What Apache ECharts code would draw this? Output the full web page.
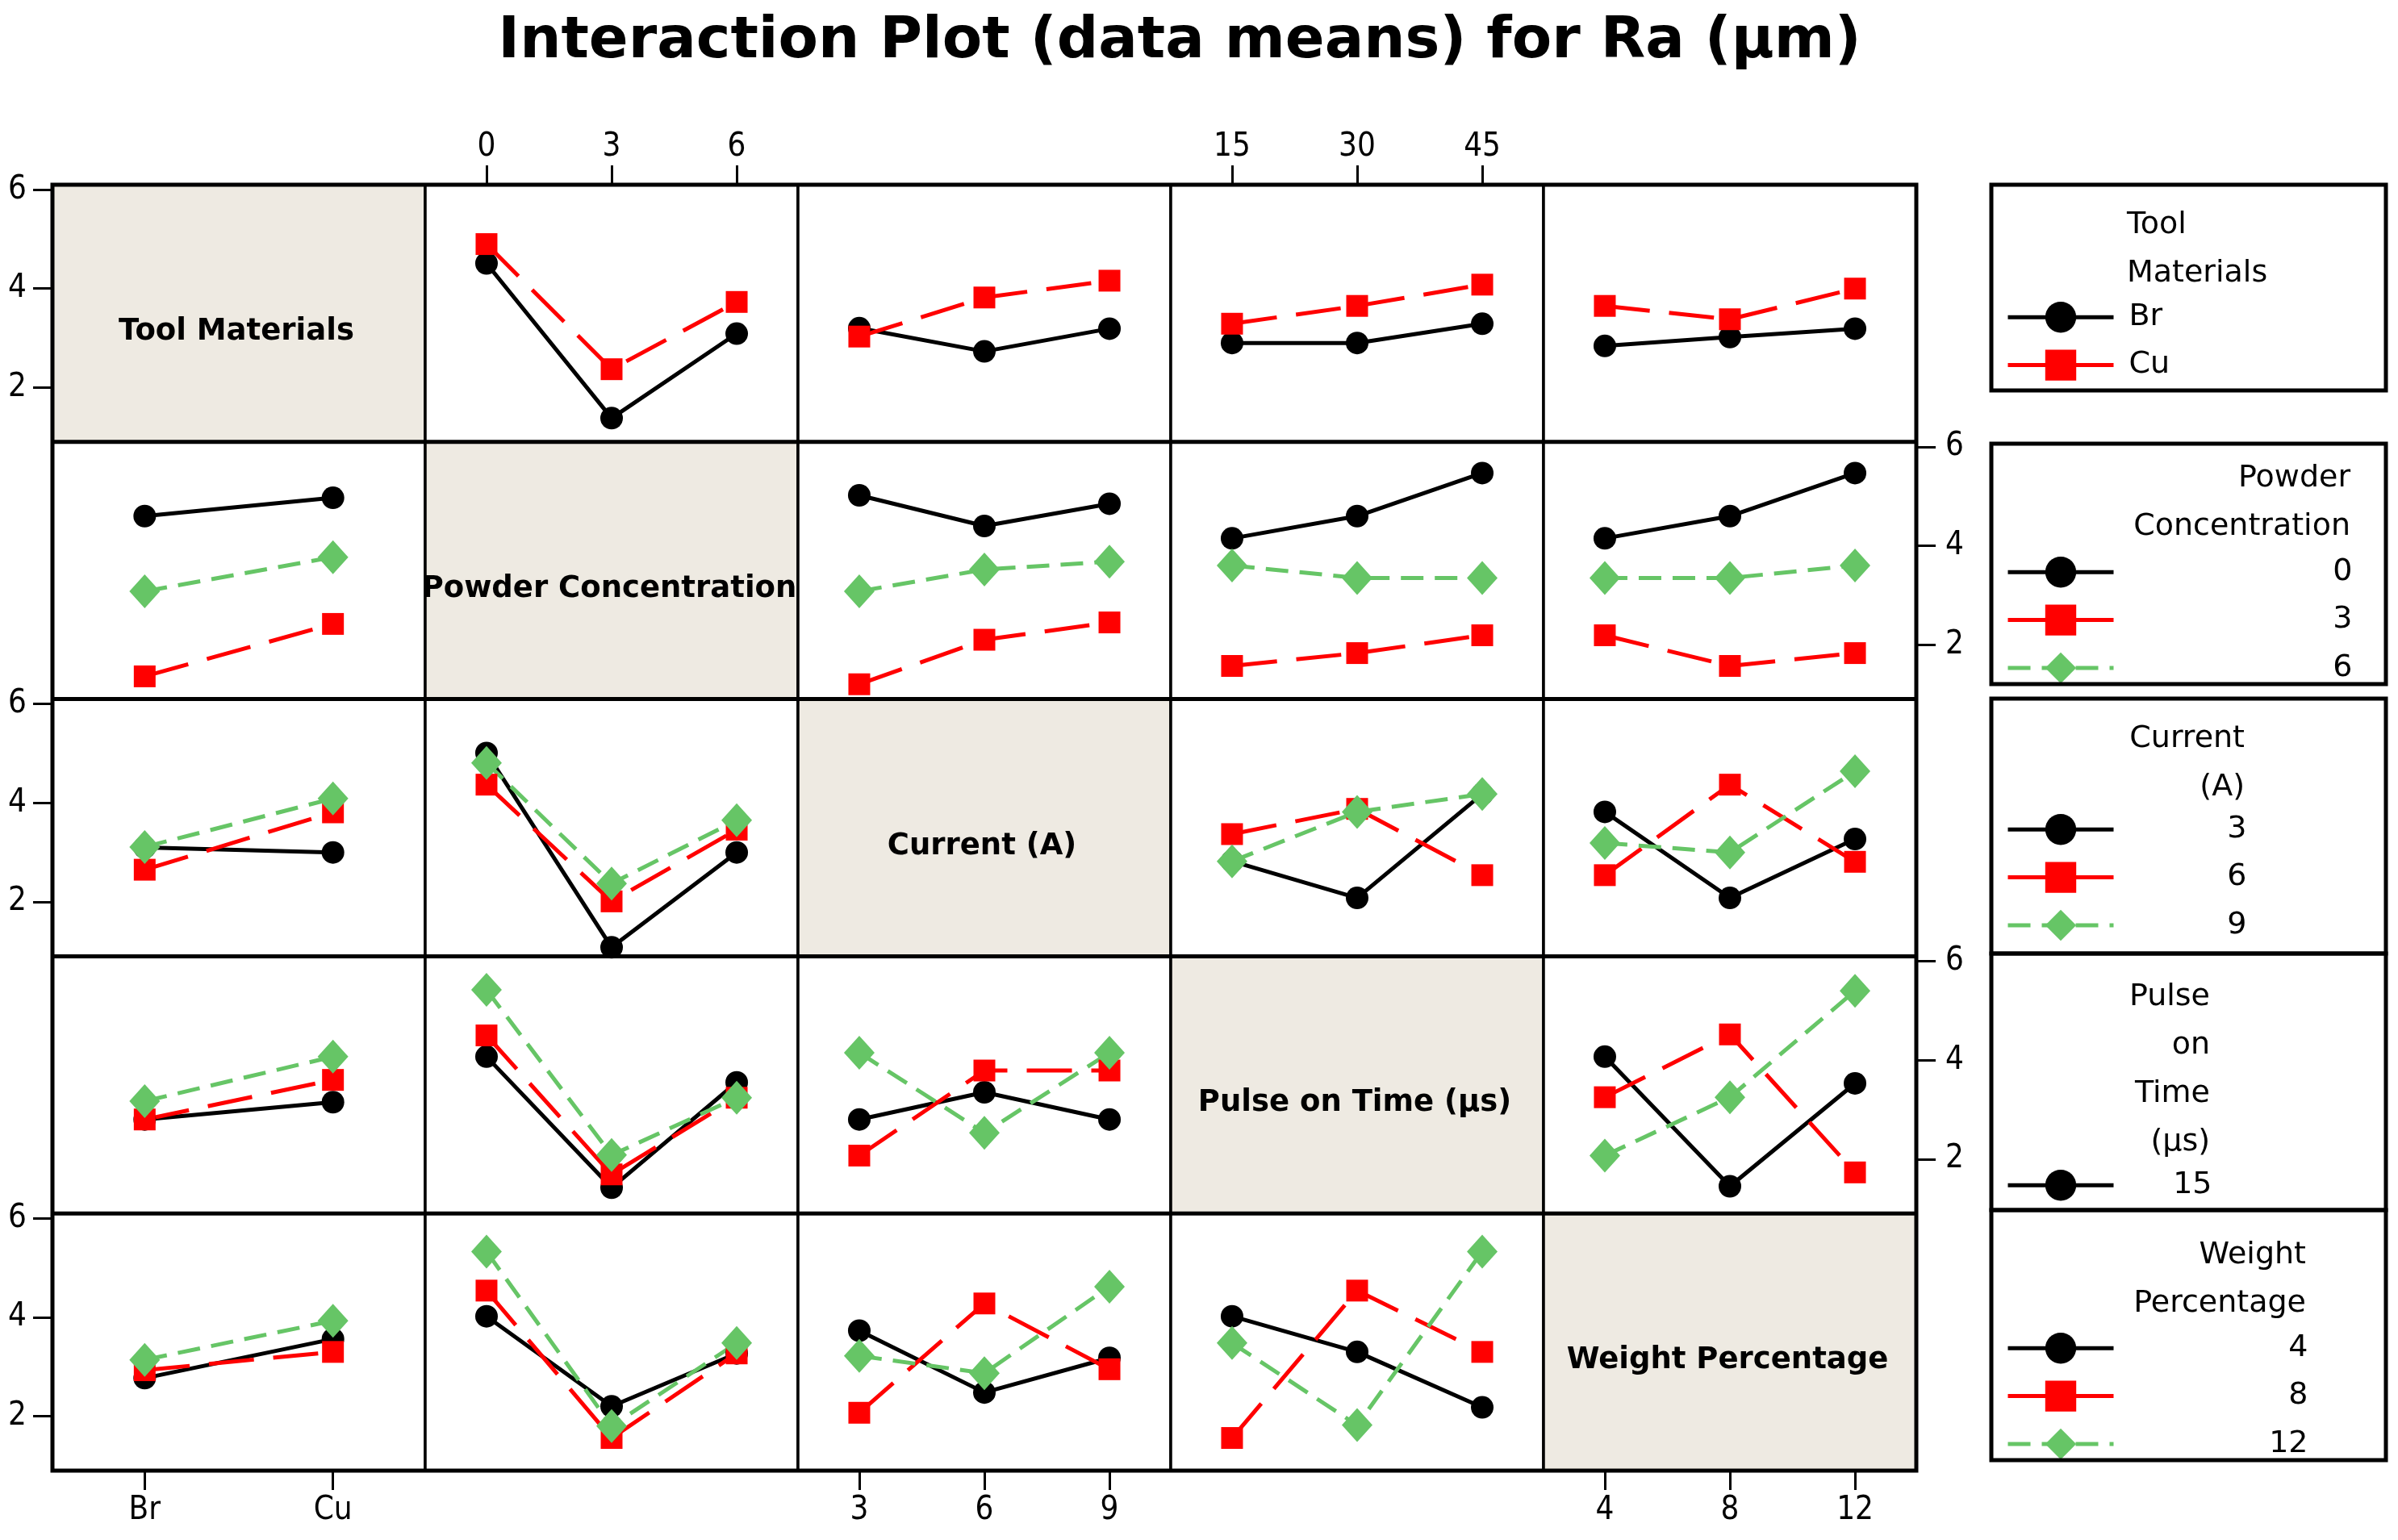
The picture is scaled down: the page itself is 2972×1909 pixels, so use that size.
<!DOCTYPE html>
<html><head><meta charset="utf-8">
<script src="https://cdn.jsdelivr.net/npm/echarts@6/dist/echarts.min.js"></script>
<style>html,body{margin:0;padding:0;background:#fff}#c{width:2972px;height:1909px}</style>
</head><body><div id="c"></div>
<script>
// ---------- factors / tick labels ----------
const factorNames = ['Tool Materials', 'Powder Concentration', 'Current (A)', 'Pulse on Time (\u03bcs)', 'Weight Percentage'];
const factorKeys = ['tool', 'powder', 'current', 'pulse', 'weight'];
const toolLevels = ['Br', 'Cu'];
const powderLevels = ['0', '3', '6'];
const currentLevels = ['3', '6', '9'];
const pulseLevels = ['15', '30', '45'];
const weightLevels = ['4', '8', '12'];
const levels = [toolLevels, powderLevels, currentLevels, pulseLevels, weightLevels];
const yTickValues = [2, 4, 6];
const legendTitles = ['Tool\nMaterials', 'Powder\nConcentration', 'Current\n(A)', 'Pulse\non\nTime\n(\u03bcs)', 'Weight\nPercentage'];
const legendShownLevels = [['Br', 'Cu'], ['0', '3', '6'], ['3', '6', '9'], ['15'], ['4', '8', '12']];
const chartTitle = 'Interaction Plot (data means) for Ra (\u03bcm)';

// ---------- data means (row factor levels x column factor levels) ----------
const toolByPowder   = [[4.51, 1.38, 3.09], [4.90, 2.37, 3.73]];
const toolByCurrent  = [[3.20, 2.73, 3.19], [3.03, 3.82, 4.16]];
const toolByPulse    = [[2.90, 2.90, 3.29], [3.29, 3.65, 4.08]];
const toolByWeight   = [[2.84, 3.02, 3.19], [3.65, 3.38, 4.00]];

const powderByTool    = [[4.60, 4.97], [1.36, 2.42], [3.08, 3.77]];
const powderByCurrent = [[5.02, 4.40, 4.85], [1.20, 2.10, 2.45], [3.08, 3.52, 3.68]];
const powderByPulse   = [[4.15, 4.60, 5.47], [1.57, 1.83, 2.19], [3.60, 3.35, 3.35]];
const powderByWeight  = [[4.15, 4.60, 5.47], [2.19, 1.57, 1.83], [3.35, 3.35, 3.60]];

const currentByTool   = [[3.10, 3.00], [2.65, 3.81], [3.11, 4.09]];
const currentByPowder = [[5.01, 1.08, 3.00], [4.37, 2.01, 3.46], [4.81, 2.37, 3.65]];
const currentByPulse  = [[2.82, 2.08, 4.18], [3.37, 3.88, 2.54], [2.82, 3.82, 4.18]];
const currentByWeight = [[3.82, 2.08, 3.27], [2.54, 4.37, 2.81], [3.19, 3.00, 4.64]];

const pulseByTool    = [[2.80, 3.15], [2.80, 3.60], [3.17, 4.07]];
const pulseByPowder  = [[4.07, 1.42, 3.55], [4.50, 1.69, 3.24], [5.42, 2.08, 3.24]];
const pulseByCurrent = [[2.80, 3.35, 2.80], [2.07, 3.79, 3.79], [4.15, 2.53, 4.15]];
const pulseByWeight  = [[4.07, 1.45, 3.53], [3.25, 4.52, 1.73], [2.07, 3.25, 5.40]];

const weightByTool    = [[2.77, 3.56], [2.93, 3.30], [3.14, 3.93]];
const weightByPowder  = [[4.02, 2.20, 3.27], [4.54, 1.56, 3.27], [5.33, 1.80, 3.48]];
const weightByCurrent = [[3.73, 2.48, 3.18], [2.07, 4.28, 2.95], [3.22, 2.87, 4.62]];
const weightByPulse   = [[4.02, 3.30, 2.18], [1.56, 4.54, 3.30], [3.48, 1.82, 5.33]];

const panelData = [
  [null, toolByPowder, toolByCurrent, toolByPulse, toolByWeight],
  [powderByTool, null, powderByCurrent, powderByPulse, powderByWeight],
  [currentByTool, currentByPowder, null, currentByPulse, currentByWeight],
  [pulseByTool, pulseByPowder, pulseByCurrent, null, pulseByWeight],
  [weightByTool, weightByPowder, weightByCurrent, weightByPulse, null]
];

// ---------- layout / style ----------
const L = 65, T = 229, CW = 462, RH = 318.8;
const FONT = "'DejaVu Sans', Verdana, sans-serif";
const TICKFONT = "'DejaVu Sans Condensed', 'Liberation Sans Narrow', 'DejaVu Sans', sans-serif";
const DIAG_BG = '#EEEAE2';
const levelStyles = [
  { color: '#000000', symbol: 'circle', symbolSize: 28, line: { type: 'solid', width: 5 } },
  { color: '#FF0000', symbol: 'rect', symbolSize: 27, line: { type: [56, 24], width: 5 } },
  { color: '#66C566', symbol: 'diamond', symbolSize: [38, 42], line: { type: [28, 14], width: 5 } }
];
const legendBoxes = [
  { y: 229, h: 255 }, { y: 550, h: 298 }, { y: 866, h: 316 }, { y: 1182, h: 318 }, { y: 1500, h: 310 }
];
const legendFirstItemCenter = [398, 714, 1033, 1474, 1676];
const legendTitleFirstCenter = [279, 593, 916, 1236, 1556];
const legendTextRight = [null, 2913, 2782, 2739, 2858];
const legendTitleX = [2636, 2913, 2782, 2739, 2858];

const seriesName = (r, lvl) => factorKeys[r] + ':' + lvl;

const grids = [], xAxes = [], yAxes = [], series = [], graphics = [];

for (let r = 0; r < 5; r++) {
  for (let c = 0; c < 5; c++) {
    const g = r * 5 + c;
    const diag = r === c;
    grids.push({
      left: L + c * CW, top: T + r * RH, width: CW, height: RH,
      show: true, borderColor: '#000', borderWidth: 3.5,
      backgroundColor: diag ? DIAG_BG : '#fff',
      containLabel: false, outerBoundsMode: 'none'
    });
    const nX = levels[c].length;
    const idx = levels[c].map((_, i) => i);
    const showTop = r === 0 && (c === 1 || c === 3);
    const showBottom = r === 4 && (c === 0 || c === 2 || c === 4);
    const showX = showTop || showBottom;
    xAxes.push({
      type: 'value', gridIndex: g, min: -0.49, max: nX - 1 + 0.49,
      position: showTop ? 'top' : 'bottom',
      axisLine: { show: false, onZero: false }, splitLine: { show: false },
      axisTick: { show: showX, customValues: idx, length: 24, inside: false, lineStyle: { color: '#000', width: 3 } },
      axisLabel: {
        show: showX, customValues: idx, margin: showTop ? 26 : 30,
        formatter: (v) => levels[c][Math.round(v)],
        fontSize: 40, fontFamily: TICKFONT, color: '#000'
      }
    });
    const showLeft = c === 0 && r % 2 === 0;
    const showRight = c === 4 && r % 2 === 1;
    const showY = showLeft || showRight;
    yAxes.push({
      type: 'value', gridIndex: g, min: 0.9, max: 6.1,
      position: showRight ? 'right' : 'left',
      axisLine: { show: false, onZero: false }, splitLine: { show: false },
      axisTick: { show: showY, customValues: yTickValues, length: 24, inside: false, lineStyle: { color: '#000', width: 3 } },
      axisLabel: {
        show: showY, customValues: yTickValues, margin: showRight ? 36 : 32,
        fontSize: 40, fontFamily: TICKFONT, color: '#000'
      }
    });
    if (diag) {
      graphics.push({
        type: 'text', z: 50,
        style: {
          text: factorNames[r], x: L + (c + 0.5) * CW - 3, y: T + (r + 0.5) * RH + 23,
          textAlign: 'center', textVerticalAlign: 'middle',
          font: 'bold 37px ' + FONT, fill: '#000'
        }
      });
      continue;
    }
    const vals = panelData[r][c];
    vals.forEach((arr, k) => {
      const st = levelStyles[k];
      series.push({
        type: 'line', name: seriesName(r, levels[r][k]),
        xAxisIndex: g, yAxisIndex: g,
        data: arr.map((v, i) => [i, v]),
        symbol: st.symbol, symbolSize: st.symbolSize, showAllSymbol: true,
        itemStyle: { color: st.color },
        lineStyle: { color: st.color, width: st.line.width, type: st.line.type },
        emphasis: { disabled: true }, silent: true, clip: false
      });
    });
  }
}

// thicker row separators and outer frame
for (let r = 1; r < 5; r++) {
  graphics.push({ type: 'line', z: 60, shape: { x1: L, y1: T + r * RH, x2: L + 5 * CW, y2: T + r * RH }, style: { stroke: '#000', lineWidth: 5 } });
}
graphics.push({ type: 'rect', z: 60, shape: { x: L, y: T, width: 5 * CW, height: 5 * RH }, style: { fill: 'none', stroke: '#000', lineWidth: 5 } });

// chart title
graphics.push({ type: 'text', z: 60, style: { text: chartTitle, x: 1462, y: 52, textAlign: 'center', textVerticalAlign: 'middle', font: 'bold 72px ' + FONT, fill: '#000' } });

// legend boxes and titles
const legends = [];
for (let r = 0; r < 5; r++) {
  const b = legendBoxes[r];
  graphics.push({ type: 'rect', z: 60, shape: { x: 2468, y: b.y, width: 489, height: b.h }, style: { fill: 'none', stroke: '#000', lineWidth: 5 } });
  graphics.push({
    type: 'text', z: 60,
    style: {
      text: legendTitles[r], x: legendTitleX[r], y: legendTitleFirstCenter[r] - 30,
      textAlign: r === 0 ? 'left' : 'right', textVerticalAlign: 'top', lineHeight: 60,
      font: '38px ' + FONT, fill: '#000'
    }
  });
  const tokenStyle = r === 0
    ? { fontSize: 38, fontFamily: FONT, color: '#000', padding: [0, 0, 0, 14] }
    : { fontSize: 38, fontFamily: FONT, color: '#000', width: legendTextRight[r] - 2622, align: 'right' };
  legends.push({
    orient: 'vertical', left: 2486, top: legendFirstItemCenter[r] - 24, padding: 0,
    itemWidth: 131, itemHeight: 48, itemGap: 21, selectedMode: false,
    lineStyle: { width: 5 },
    data: legendShownLevels[r].map(l => seriesName(r, l)),
    formatter: (name) => '{t|' + name.split(':')[1] + '}',
    textStyle: { fontSize: 38, fontFamily: FONT, color: '#000', rich: { t: tokenStyle } }
  });
}

const chart = echarts.init(document.getElementById('c'), null, { renderer: 'canvas' });
chart.setOption({
  animation: false,
  backgroundColor: '#fff',
  grid: grids, xAxis: xAxes, yAxis: yAxes, series: series,
  legend: legends, graphic: graphics,
  tooltip: { show: false }
});
</script></body></html>
